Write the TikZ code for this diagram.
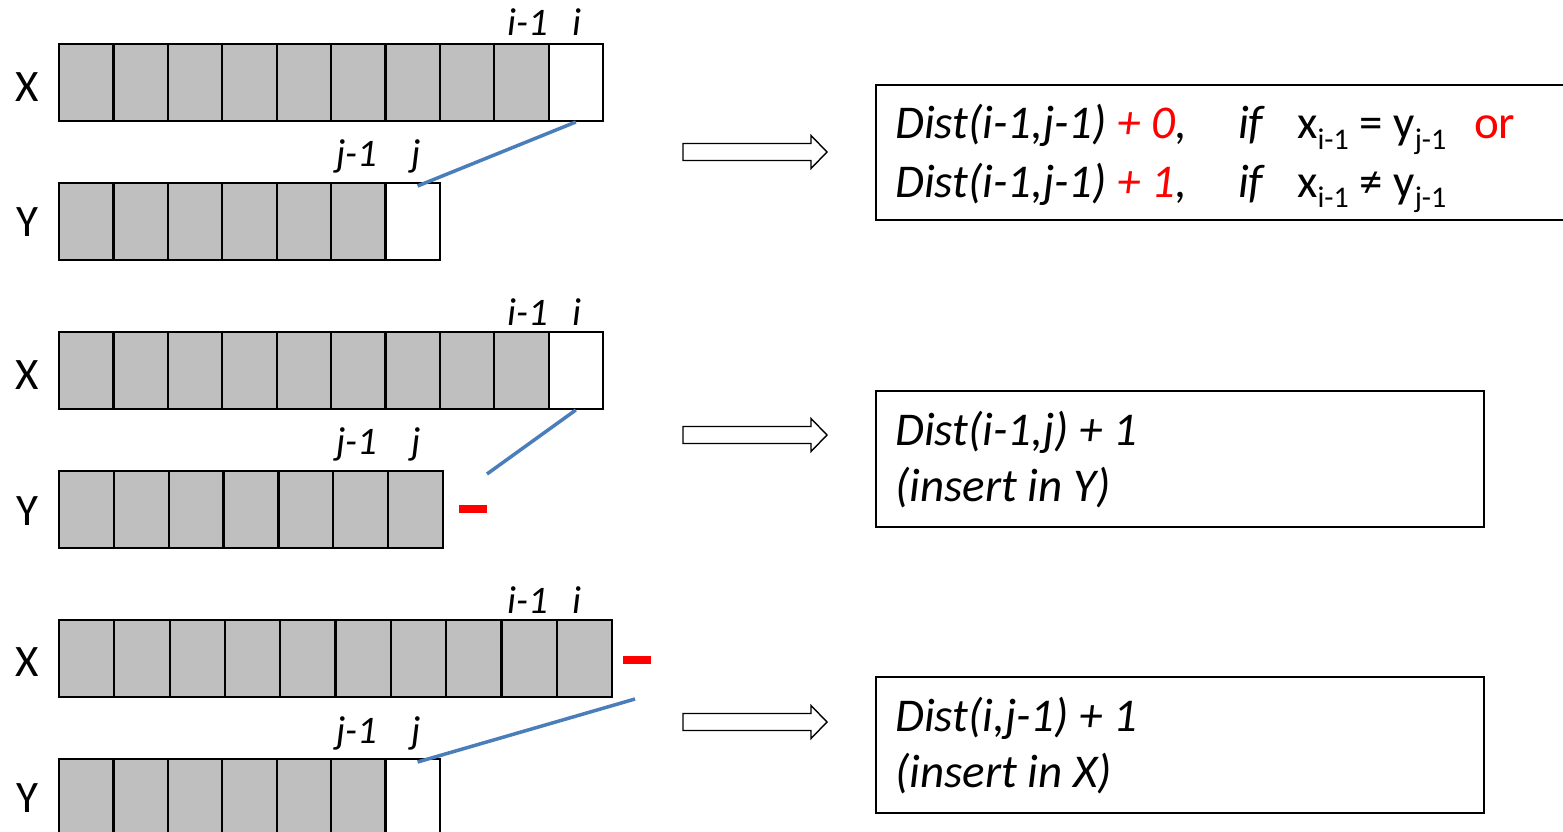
\documentclass[tikz,border=0pt]{standalone}
\usepackage{fontspec}
\setmainfont{Carlito}
\usetikzlibrary{calc}
\definecolor{cellgray}{RGB}{191,191,191}
\definecolor{lineblue}{RGB}{74,126,187}
\newcommand\mysub[1]{\raisebox{-0.22em}{\fontsize{30}{32}\selectfont #1}}
\begin{document}
\begin{tikzpicture}[x=1pt,y=-1pt,
  cellg/.style={draw, line width=2.2pt, fill=cellgray, inner sep=0pt, outer sep=0pt, minimum height=77pt, anchor=north west},
  cellw/.style={cellg, fill=white},
  rowlab/.style={font=\fontsize{45}{50}\selectfont, anchor=center},
  idx/.style={font=\fontsize{39}{42}\selectfont\itshape, anchor=base},
  txt/.style={font=\fontsize{47}{52}\selectfont, anchor=base west, inner sep=0pt},
  outbox/.style={draw, line width=1.6pt, inner sep=0pt, anchor=north west},
  link/.style={draw=lineblue, line width=3.5pt},
  reddash/.style={fill=red, inner sep=0pt, minimum width=28pt, minimum height=8pt},
  hollow/.style={draw, line width=1.4pt, fill=white, line join=miter}
]
\useasboundingbox (0,0) rectangle (1563,832);

% ---------- Section 1 ----------
\node[rowlab] (X1) at (27,87) {X};
\node[rowlab] (Y1) at (27,222) {Y};
\foreach \k in {1,...,9} \node[cellg, minimum width=54.4pt] (a1-\k) at ({59+(\k-1)*54.4},44) {};
\node[cellw, minimum width=54.4pt] (a1-10) at ({59+9*54.4},44) {};
\foreach \k in {1,...,6} \node[cellg, minimum width=54.4pt] (b1-\k) at ({59+(\k-1)*54.4},183) {};
\node[cellw, minimum width=54.4pt] (b1-7) at ({59+6*54.4},183) {};
\node[idx] (i1a) at (528,36) {i-1};
\node[idx] (i1b) at (577,36) {i};
\node[idx] (j1a) at (357,166) {j-1};
\node[idx] (j1b) at (416,166) {j};
\draw[link] ([yshift=-1pt]a1-10.south) -- ([xshift=5pt,yshift=-3pt]b1-7.north);

% ---------- Section 2 ----------
\node[rowlab] (X2) at (27,375) {X};
\node[rowlab] (Y2) at (27,511) {Y};
\foreach \k in {1,...,9} \node[cellg, minimum width=54.4pt] (a2-\k) at ({59+(\k-1)*54.4},332) {};
\node[cellw, minimum width=54.4pt] (a2-10) at ({59+9*54.4},332) {};
\foreach \k in {1,...,7} \node[cellg, minimum width=54.86pt] (b2-\k) at ({59+(\k-1)*54.86},471) {};
\node[idx] (i2a) at (528,325) {i-1};
\node[idx] (i2b) at (577,325) {i};
\node[idx] (j2a) at (357,454) {j-1};
\node[idx] (j2b) at (416,454) {j};
\node[reddash] (d2) at (473,509) {};
\coordinate (e2) at (487,474);
\draw[link] ([yshift=-1pt]a2-10.south) -- (e2);

% ---------- Section 3 ----------
\node[rowlab] (X3) at (27,662) {X};
\node[rowlab] (Y3) at (27,798) {Y};
\foreach \k in {1,...,10} \node[cellg, minimum width=55.3pt] (a3-\k) at ({59+(\k-1)*55.3},620) {};
\foreach \k in {1,...,6} \node[cellg, minimum width=54.4pt] (b3-\k) at ({59+(\k-1)*54.4},759) {};
\node[cellw, minimum width=54.4pt] (b3-7) at ({59+6*54.4},759) {};
\node[idx] (i3a) at (528,613) {i-1};
\node[idx] (i3b) at (577,613) {i};
\node[idx] (j3a) at (357,743) {j-1};
\node[idx] (j3b) at (416,743) {j};
\node[reddash] (d3) at (637,660) {};
\coordinate (e3) at (635,699);
\draw[link] (e3) -- ([xshift=5pt,yshift=-3pt]b3-7.north);

% ---------- Hollow arrows ----------
\foreach \yc in {152,435,722}
  \draw[hollow] (683,\yc-8.5) -- (811,\yc-8.5) -- (811,\yc-16.5) -- (827,\yc) -- (811,\yc+16.5) -- (811,\yc+8.5) -- (683,\yc+8.5) -- cycle;

% ---------- Result boxes ----------
\node[outbox, minimum width=700pt, minimum height=135pt] (box1) at (875,84) {};
\node[outbox, minimum width=608pt, minimum height=136pt] (box2) at (875,390) {};
\node[outbox, minimum width=608pt, minimum height=136pt] (box3) at (875,676) {};

\node[txt] (t1a) at (895,139) {\itshape Dist(i-1,j-1) \textcolor{red}{+ 0},};
\node[txt] (t1b) at (1238,139) {\itshape if};
\node[txt] (t1c) at (1297,139) {x\mysub{i-1} = y\mysub{j-1}};
\node[txt, text=red] (t1d) at (1474,139) {or};
\node[txt] (t2a) at (895,197) {\itshape Dist(i-1,j-1) \textcolor{red}{+ 1},};
\node[txt] (t2b) at (1238,197) {\itshape if};
\node[txt] (t2c) at (1297,197) {x\mysub{i-1} ≠ y\mysub{j-1}};

\node[txt] (t3a) at (895,445) {\itshape Dist(i-1,j) + 1};
\node[txt] (t3b) at (895,501) {\itshape (insert in Y)};
\node[txt] (t4a) at (895,731) {\itshape Dist(i,j-1) + 1};
\node[txt] (t4b) at (895,787) {\itshape (insert in X)};
\end{tikzpicture}
\end{document}
